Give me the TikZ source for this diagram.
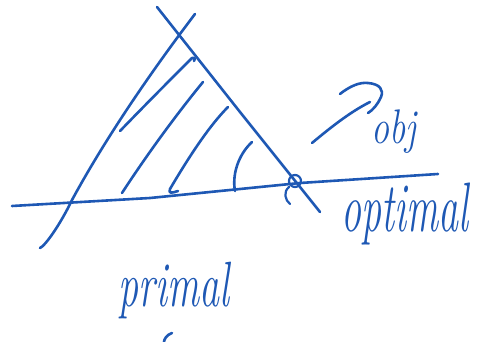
\documentclass[tikz,border=0pt]{standalone}
\usepackage{fontspec}
\begin{document}
\begin{tikzpicture}[x=1pt,y=-1pt,
  pen/.style={draw=inkblue,line width=2.6pt,line cap=round,line join=round},
  hand/.style={text=inkblue,inner sep=0pt},
]
\definecolor{inkblue}{RGB}{30,88,180}
\useasboundingbox (0,0) rectangle (480,342);
% axis / constraint lines
\draw[pen] (12,206) -- (150,198) -- (300,183) -- (438,174);
\draw[pen] (40,248) .. controls (45,246) and (60,225) .. (72,200)
  .. controls (110,130) and (160,60) .. (195,14);
\draw[pen] (157,7) -- (240,112) -- (320,212);
% optimal point
\coordinate (opt) at (295,181);
\draw[pen,line width=2.2pt] (opt) circle (6);
\draw[pen,line width=2.2pt] (289,187) .. controls (283,192) and (285,200) .. (290,204);
% hatching
\draw[pen] (120,131) .. controls (150,100) and (175,75) .. (192,58) .. controls (195,57) and (196,60) .. (194,61);
\draw[pen] (122,193) .. controls (150,150) and (180,110) .. (203,82);
\draw[pen] (178,191) .. controls (172,193) and (168,194) .. (170,189) .. controls (190,155) and (210,125) .. (228,107);
\draw[pen] (235,191) .. controls (232,175) and (238,155) .. (252,142);
% obj arrow
\draw[pen] (312,143) .. controls (330,128) and (350,112) .. (370,102);
\draw[pen] (340,94) .. controls (350,86) and (360,82) .. (368,83)
  .. controls (380,84) and (384,90) .. (381,97) .. controls (378,104) and (373,110) .. (368,113);
% labels
\node[hand,font=\itshape\fontsize{36}{38}\selectfont] (obj) at (394,132) {\scalebox{1}[1.35]{obj}};
\node[hand,font=\itshape\fontsize{40}{42}\selectfont] (optimal) at (405,214) {\scalebox{1}[1.75]{optimal}};
\node[hand,font=\itshape\fontsize{40}{42}\selectfont] (primal) at (174,290) {\scalebox{1}[1.6]{primal}};
\draw[pen] (172,333) .. controls (166,335) and (164,340) .. (164,342);
\end{tikzpicture}
\end{document}
